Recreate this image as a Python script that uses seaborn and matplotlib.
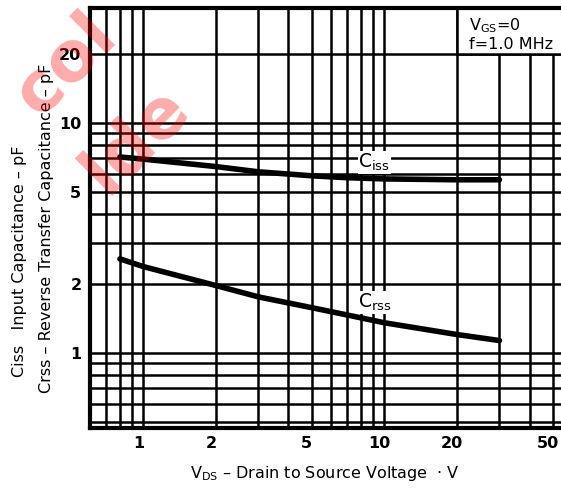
import numpy as np
import pandas as pd
import matplotlib
matplotlib.use('Agg')
import matplotlib.pyplot as plt
from matplotlib.patches import Rectangle
from matplotlib.ticker import FixedLocator, NullFormatter
from matplotlib.transforms import ScaledTranslation
import seaborn as sns

# curve values
vds = [0.8, 1, 2, 3, 5, 7, 10, 20, 30]
ciss = [7.1, 6.95, 6.45, 6.12, 5.88, 5.77, 5.7, 5.65, 5.65]
crss = [2.56, 2.37, 1.96, 1.75, 1.57, 1.46, 1.35, 1.2, 1.13]

x_major = [1, 2, 5, 10, 20, 50]
x_minor = [0.7, 0.8, 0.9, 3, 4, 6, 7, 8, 9, 30, 40]
y_major = [1, 2, 5, 10, 20]
y_minor = [0.5, 0.6, 0.7, 0.8, 0.9, 3, 4, 6, 7, 8, 9]

df = pd.DataFrame({'vds': vds, 'Ciss': ciss, 'Crss': crss})
long = df.melt(id_vars='vds', var_name='cap', value_name='pF')

sns.set_theme(style='white')
plt.rcParams['font.family'] = ['DejaVu Sans']
plt.rcParams['mathtext.default'] = 'regular'
plt.rcParams['text.color'] = 'black'
plt.rcParams['axes.labelcolor'] = 'black'
plt.rcParams['xtick.color'] = 'black'
plt.rcParams['ytick.color'] = 'black'

fig = plt.figure(figsize=(5.61, 4.91), dpi=100)
ax = fig.add_axes([0.160, 0.128, 0.840, 0.856])

ax.set_xscale('log')
ax.set_yscale('log')
ax.set_xlim(0.6, 54)
ax.set_ylim(0.47, 31.6)

ax.xaxis.set_major_locator(FixedLocator(x_major))
ax.xaxis.set_minor_locator(FixedLocator(x_minor))
ax.yaxis.set_major_locator(FixedLocator(y_major))
ax.yaxis.set_minor_locator(FixedLocator(y_minor))
ax.set_xticklabels([str(v) for v in x_major], fontsize=11.5, fontweight='bold')
ax.set_yticklabels([str(v) for v in y_major], fontsize=11.5, fontweight='bold')
ax.xaxis.set_minor_formatter(NullFormatter())
ax.yaxis.set_minor_formatter(NullFormatter())
ax.tick_params(which='both', length=0, pad=6)
# scanned labels sit a little left of their grid lines
shift = ScaledTranslation(-5 / 100, 0, fig.dpi_scale_trans)
for lab in ax.get_xticklabels():
    lab.set_transform(lab.get_transform() + shift)
ax.grid(which='both', color='black', linewidth=1.8)
ax.set_axisbelow(True)

for side in ['left', 'bottom', 'top']:
    ax.spines[side].set_visible(True)
    ax.spines[side].set_color('black')
    ax.spines[side].set_linewidth(3)
ax.spines['right'].set_visible(False)

# blank cell holding the test conditions
ax.add_patch(Rectangle((20, 20), 1000, 1000, facecolor='white',
                       edgecolor='black', linewidth=1.8, zorder=1.5))

sns.lineplot(data=long, x='vds', y='pF', units='cap', estimator=None,
             color='black', linewidth=4, legend=False, ax=ax, zorder=3)

ax.text(7.8, 6.7, r'$C_{iss}$', fontsize=13.5, ha='left', va='center',
        zorder=4, bbox=dict(facecolor='white', edgecolor='none', pad=0.5))
ax.text(7.8, 1.66, r'$C_{rss}$', fontsize=13.5, ha='left', va='center',
        zorder=4, bbox=dict(facecolor='white', edgecolor='none', pad=0.5))
ax.text(22.5, 26.5, r'$V_{GS}$=0', fontsize=11.5, ha='left', va='center', zorder=4)
ax.text(22.5, 21.9, 'f=1.0 MHz', fontsize=11.5, ha='left', va='center', zorder=4)

ax.set_xlabel(r'$V_{DS}$' + ' – Drain to Source Voltage  · V', fontsize=11.5, labelpad=9)
ax.set_ylabel('')
fig.text(20 / 561, 1 - 377 / 491, 'Ciss   Input Capacitance – pF', rotation=90,
         ha='center', va='bottom', fontsize=11.5)
fig.text(47 / 561, 1 - 393 / 491, 'Crss – Reverse Transfer Capacitance – pF', rotation=90,
         ha='center', va='bottom', fontsize=11.5)

# red watermark from the scan
fig.text(65 / 561, 1 - 65 / 491, 'col', rotation=45, ha='center', va='center',
         fontsize=50, fontweight='bold', color='red', alpha=0.33, zorder=10)
fig.text(135 / 561, 1 - 140 / 491, 'lde', rotation=45, ha='center', va='center',
         fontsize=50, fontweight='bold', color='red', alpha=0.33, zorder=10)

fig.savefig('out.png', dpi=100)
